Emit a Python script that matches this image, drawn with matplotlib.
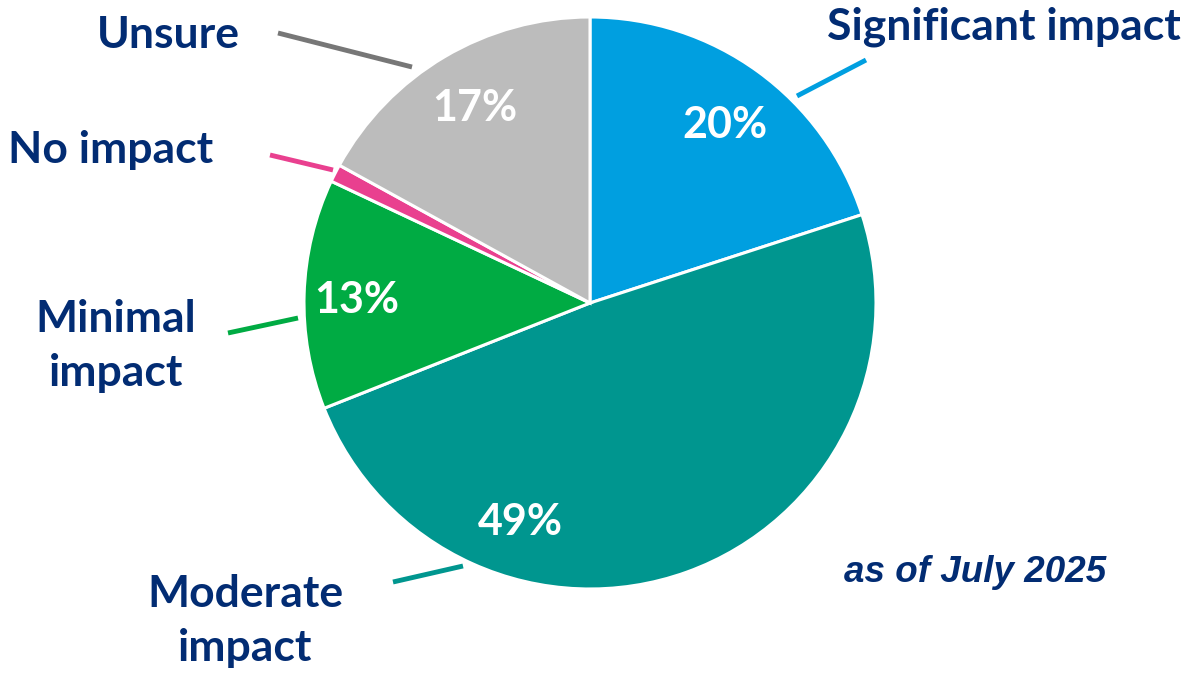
import matplotlib
matplotlib.use("Agg")
import matplotlib.pyplot as plt

# data
categories = ["Significant impact", "Moderate impact", "Minimal impact", "No impact", "Unsure"]
values = [20, 49, 13, 1, 17]
colors = ["#009FE0", "#00968F", "#00AB43", "#E9408F", "#BCBCBC"]
line_colors = ["#009FE0", "#00968F", "#00AB43", "#E9408F", "#777777"]
show_pct = [True, True, True, False, True]
note = "as of July 2025"

W, H = 1187, 674
navy = "#022C73"

fig = plt.figure(figsize=(W / 100, H / 100), dpi=100)
ax = fig.add_axes([0, 0, 1, 1])

cx, cy, r = 590, H - 303, 286
ax.pie(values, colors=colors, startangle=90, counterclock=False,
       center=(cx, cy), radius=r,
       wedgeprops=dict(edgecolor="white", linewidth=2.2))
ax.set_xlim(0, W)
ax.set_ylim(0, H)
ax.set_aspect("equal")
ax.axis("off")

# percent label positions (pixel coords, y from top)
pct_pos = [(725, 125), (520, 522), (357, 300), None, (475, 108)]
for v, show, pos in zip(values, show_pct, pct_pos):
    if show:
        ax.text(pos[0], H - pos[1], f"{v}%", color="white", fontsize=31,
                fontweight="bold", family="Lato", ha="center", va="center")

# category labels and leader lines
label_pos = [(1004, 27, "center"), (245, 621, "center"), (116, 346, "center"),
             (111, 150, "center"), (168, 35, "center")]
label_text = ["Significant impact", "Moderate\nimpact", "Minimal\nimpact", "No impact", "Unsure"]
leaders = [((797, 96), (866, 60)), ((393, 582), (463, 566)), ((228, 333), (298, 318)),
           ((270, 155), (333, 170)), ((278, 33), (412, 67))]

for txt, (x, y, ha), (p0, p1), lc in zip(label_text, label_pos, leaders, line_colors):
    ax.text(x, H - y, txt, color=navy, fontsize=32, fontweight="bold",
            family="Lato", ha=ha, va="center", linespacing=1.45)
    ax.plot([p0[0], p1[0]], [H - p0[1], H - p1[1]], color=lc, lw=3.5,
            solid_capstyle="butt")

ax.text(975, H - 572, note, color=navy, fontsize=26.5, fontweight="bold",
        fontstyle="italic", family="Liberation Sans", ha="center", va="center")

fig.savefig("out.png", dpi=100)
